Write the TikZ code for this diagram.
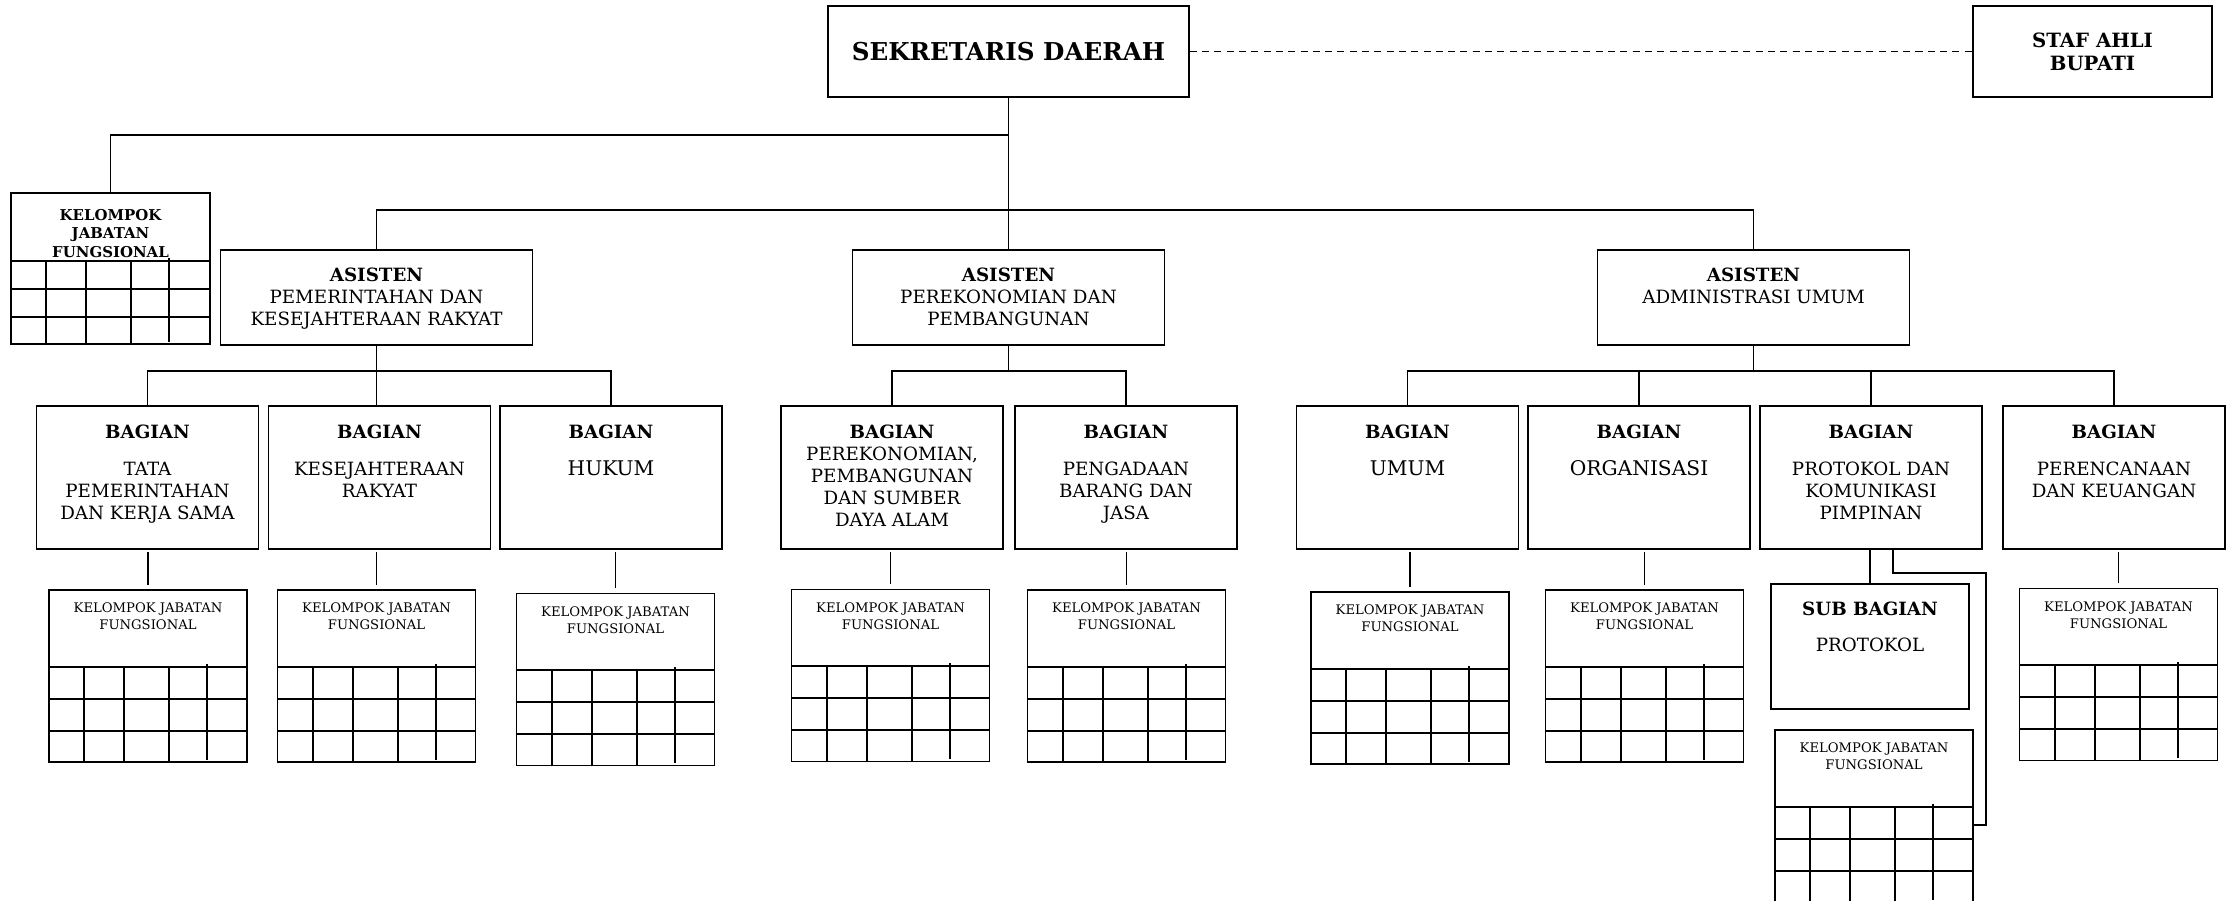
\documentclass[tikz,border=0pt]{standalone}
\usepackage{fontspec}
\setmainfont{DejaVu Serif}
\usetikzlibrary{calc}
\newcommand{\toptext}[4]{\parbox[t][#1][t]{#2}{\centering\rule{0pt}{#3}#4}}

\begin{document}
\begin{tikzpicture}[x=0.02cm, y=-0.02cm,
    unit/.style={draw, line width=1pt, inner sep=0pt, fill=white, font=\fontsize{10.4}{12.5}\selectfont},
    kjf/.style={draw, line width=1pt, inner sep=0pt, fill=white, font=\fontsize{7.5}{9.6}\selectfont},
    link/.style={line width=0.8pt},
    tabline/.style={line width=1pt}
]
\useasboundingbox (0,0) rectangle (2227,901);

\node[unit, minimum width=7.22cm, minimum height=1.82cm, font=\fontsize{14}{17}\selectfont\bfseries] (sekda) at (1008.5,51.5) {SEKRETARIS DAERAH};
\node[unit, minimum width=4.78cm, minimum height=1.82cm, align=center, font=\fontsize{11.2}{13}\selectfont\bfseries] (staf) at (2092.5,51.5) {STAF AHLI\\BUPATI};

\node[kjf, font=\fontsize{8.5}{10.5}\selectfont\bfseries] (k0) at (110.5,268.5) {\toptext{3.02cm}{3.98cm}{15.6pt}{KELOMPOK\\JABATAN\\FUNGSIONAL}};

\node[unit] (a1) at (376.5,297.5) {\toptext{1.9cm}{6.24cm}{18.1pt}{\textbf{ASISTEN}\\PEMERINTAHAN DAN\\KESEJAHTERAAN RAKYAT}};
\node[unit] (a2) at (1008.5,297.5) {\toptext{1.9cm}{6.24cm}{18.1pt}{\textbf{ASISTEN}\\PEREKONOMIAN DAN\\PEMBANGUNAN}};
\node[unit] (a3) at (1753.5,297.5) {\toptext{1.9cm}{6.24cm}{18.1pt}{\textbf{ASISTEN}\\ADMINISTRASI UMUM}};

\node[unit] (b1) at (147.5,477.5) {\toptext{2.86cm}{4.44cm}{18.7pt}{\textbf{BAGIAN}\\[8.5pt]TATA\\PEMERINTAHAN\\DAN KERJA SAMA}};
\node[unit] (b2) at (379.5,477.5) {\toptext{2.86cm}{4.44cm}{18.7pt}{\textbf{BAGIAN}\\[8.5pt]KESEJAHTERAAN\\RAKYAT}};
\node[unit] (b3) at (611,477.5) {\toptext{2.86cm}{4.44cm}{18.7pt}{\textbf{BAGIAN}\\[8.5pt]{\fontsize{11.5}{12.5}\selectfont HUKUM}}};
\node[unit] (b4) at (892,477.5) {\toptext{2.86cm}{4.44cm}{18.7pt}{\textbf{BAGIAN}\\PEREKONOMIAN,\\PEMBANGUNAN\\DAN SUMBER\\DAYA ALAM}};
\node[unit] (b5) at (1126,477.5) {\toptext{2.86cm}{4.44cm}{18.7pt}{\textbf{BAGIAN}\\[8.5pt]PENGADAAN\\BARANG DAN\\JASA}};
\node[unit] (b6) at (1407.5,477.5) {\toptext{2.86cm}{4.44cm}{18.7pt}{\textbf{BAGIAN}\\[8.5pt]{\fontsize{11.5}{12.5}\selectfont UMUM}}};
\node[unit] (b7) at (1639,477.5) {\toptext{2.86cm}{4.44cm}{18.7pt}{\textbf{BAGIAN}\\[8.5pt]{\fontsize{11.5}{12.5}\selectfont ORGANISASI}}};
\node[unit] (b8) at (1871,477.5) {\toptext{2.86cm}{4.44cm}{18.7pt}{\textbf{BAGIAN}\\[8.5pt]PROTOKOL DAN\\KOMUNIKASI\\PIMPINAN}};
\node[unit] (b9) at (2114,477.5) {\toptext{2.86cm}{4.44cm}{18.7pt}{\textbf{BAGIAN}\\[8.5pt]PERENCANAAN\\DAN KEUANGAN}};

\node[unit] (sub) at (1870,646.5) {\toptext{2.5cm}{3.96cm}{18.1pt}{\textbf{SUB BAGIAN}\\[8pt]PROTOKOL}};

\node[kjf] (k1) at (148,676) {\toptext{3.44cm}{3.96cm}{13pt}{KELOMPOK JABATAN\\FUNGSIONAL}};
\node[kjf] (k2) at (376.5,676) {\toptext{3.44cm}{3.96cm}{13pt}{KELOMPOK JABATAN\\FUNGSIONAL}};
\node[kjf] (k3) at (615.5,679.5) {\toptext{3.44cm}{3.96cm}{13pt}{KELOMPOK JABATAN\\FUNGSIONAL}};
\node[kjf] (k4) at (890.5,675.5) {\toptext{3.44cm}{3.96cm}{13pt}{KELOMPOK JABATAN\\FUNGSIONAL}};
\node[kjf] (k5) at (1126.5,676) {\toptext{3.44cm}{3.96cm}{13pt}{KELOMPOK JABATAN\\FUNGSIONAL}};
\node[kjf] (k6) at (1410,678) {\toptext{3.44cm}{3.96cm}{13pt}{KELOMPOK JABATAN\\FUNGSIONAL}};
\node[kjf] (k7) at (1644.5,676) {\toptext{3.44cm}{3.96cm}{13pt}{KELOMPOK JABATAN\\FUNGSIONAL}};
\node[kjf] (k8) at (1874,816) {\toptext{3.44cm}{3.96cm}{13pt}{KELOMPOK JABATAN\\FUNGSIONAL}};
\node[kjf] (k9) at (2118.5,674.5) {\toptext{3.44cm}{3.96cm}{13pt}{KELOMPOK JABATAN\\FUNGSIONAL}};

\foreach \kj/\rh in {k0/28, k1/32, k2/32, k3/32, k4/32, k5/32, k6/32, k7/32, k8/32, k9/32} {
  \foreach \n in {1,2,3}
    \draw[tabline] ($(\kj.south west)+(0,-\n*\rh)$) -- ($(\kj.south east)+(0,-\n*\rh)$);
  \foreach \cx in {36,76,121}
    \draw[tabline] ($(\kj.south west)+(\cx,0)$) -- ++(0,-3*\rh);
  \draw[tabline] ($(\kj.south west)+(159,-3)$) -- ++(0,-3*\rh);
}

\coordinate (jk) at (1008.5,135);
\coordinate (ja) at (1008.5,210);
\coordinate (j1) at (376.5,371);
\coordinate (j2) at (1008.5,371);
\coordinate (j3) at (1753.5,371);
\coordinate (elb) at (1986,573);

\draw[line width=1pt, dash pattern=on 4pt off 3pt] (sekda) -- (staf);
\draw[link] (sekda.south) -- (a2.north);
\draw[link] (jk) -| (k0.north);
\draw[link] (a1.north) |- (ja) -| (a3.north);

\draw[link] (a1.south) -- (j1);
\draw[link] (b1.north) |- (j1) -| (b3.north);
\draw[link] (j1) -- (j1 |- b2.north);
\draw[link] (a2.south) -- (j2);
\draw[link] (b4.north) |- (j2) -| (b5.north);
\draw[link] (a3.south) -- (j3);
\draw[link] (b6.north) |- (j3) -| (b9.north);
\draw[link] (b7.north) -- (b7.north |- j3);
\draw[link] (b8.north) -- (b8.north |- j3);

\foreach \bg/\kj in {b1/k1, b2/k2, b3/k3, b4/k4, b5/k5, b6/k6, b7/k7, b9/k9}
  \draw[link, shorten <=2.5pt, shorten >=1pt] (\kj.north) -- (\kj.north |- \bg.south);
\draw[link] (sub.north) -- (sub.north |- b8.south);
\draw[link] ($(b8.south)+(22,0)$) |- (elb) |- ($(k8.east)+(0,9)$);
\end{tikzpicture}
\end{document}
